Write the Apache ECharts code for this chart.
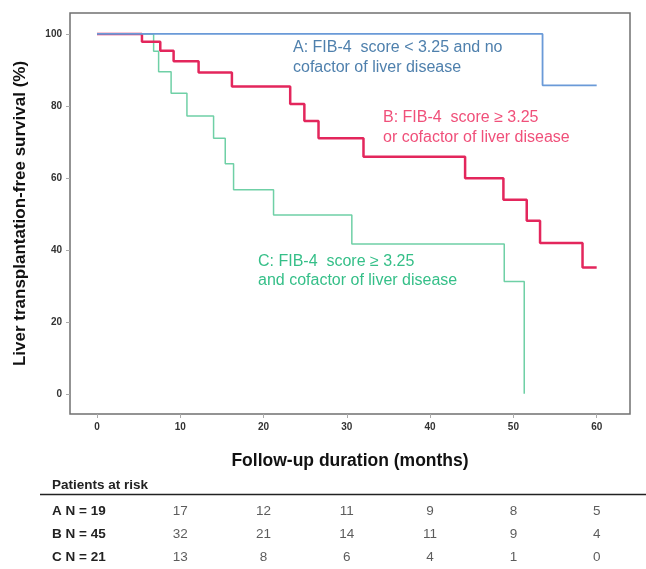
<!DOCTYPE html>
<html>
<head>
<meta charset="utf-8">
<script src="https://cdn.jsdelivr.net/npm/echarts@6/dist/echarts.min.js"></script>
<style>
html,body{margin:0;padding:0;background:#fff;}
#main{width:646px;height:569px;}
</style>
</head>
<body>
<div id="main"></div>
<script>
// Kaplan-Meier step data [month, survival %]
var curveA = [[0,100],[53.5,85.7],[60,85.7]];
var curveB = [[0,100],[5.4,97.8],[7.6,95.3],[9.2,92.4],[12.2,89.3],[16.2,85.4],[23.2,80.5],[24.9,75.8],[26.6,71.0],[32.0,65.9],[44.2,59.9],[48.8,53.9],[51.6,48.1],[53.2,41.9],[58.3,35.1],[60,35.1]];
var curveC = [[0,100],[6.8,95.2],[7.4,89.5],[8.9,83.5],[10.8,77.2],[14.0,71.0],[15.4,63.9],[16.4,56.7],[21.2,49.7],[30.6,41.6],[48.9,31.2],[51.3,0]];

var xTicks = [0,10,20,30,40,50,60];
var yTicks = [0,20,40,60,80,100];

// Patients at risk table
var riskMonths = [10,20,30,40,50,60];
var riskRows = ['A N = 19','B N = 45','C N = 21'];
var riskA = [17,12,11,9,8,5];
var riskB = [32,21,14,11,9,4];
var riskC = [13,8,6,4,1,0];

var FONT = 'Liberation Sans, Arial, sans-serif';
var chart = echarts.init(document.getElementById('main'));

function riskSeries(row, vals){
  return {
    type:'scatter', xAxisIndex:1, yAxisIndex:1, symbolSize:0, silent:true,
    data: riskMonths.map(function(m,i){ return [m, row, vals[i]]; }),
    label:{show:true, position:'inside', formatter:function(p){return p.value[2];},
      fontFamily:FONT, fontSize:13.5, color:'#333'}
  };
}

var option = {
  animation:false,
  backgroundColor:'#fff',
  grid:[
    {left:70, right:16, top:13, bottom:155, show:true, borderColor:'#707070', borderWidth:1.5, backgroundColor:'transparent'},
    {left:70, right:16, top:500, height:72, show:false}
  ],
  xAxis:[
    {type:'value', gridIndex:0, min:-3.24, max:64, splitLine:{show:false},
     axisLine:{show:false, onZero:false},
     axisTick:{show:true, customValues:xTicks, length:4, lineStyle:{color:'#aaa'}},
     axisLabel:{customValues:xTicks, fontFamily:FONT, fontSize:10, fontWeight:'bold', color:'#333', margin:8},
     name:'Follow-up duration (months)', nameLocation:'middle', nameGap:38,
     nameTextStyle:{fontFamily:FONT, fontSize:17.5, fontWeight:'bold', color:'#111'}},
    {type:'value', gridIndex:1, min:-3.24, max:64, show:false}
  ],
  yAxis:[
    {type:'value', gridIndex:0, min:-5.6, max:105.8, splitLine:{show:false},
     axisLine:{show:false, onZero:false},
     axisTick:{show:true, customValues:yTicks, length:4, lineStyle:{color:'#aaa'}},
     axisLabel:{customValues:yTicks, fontFamily:FONT, fontSize:10, fontWeight:'bold', color:'#333', margin:8},
     name:'Liver transplantation-free survival (%)', nameLocation:'middle', nameGap:41,
     nameTextStyle:{fontFamily:FONT, fontSize:17, fontWeight:'bold', color:'#111'}},
    {type:'category', gridIndex:1, data:riskRows, inverse:true,
     axisLine:{show:false}, axisTick:{show:false}, splitLine:{show:false},
     axisLabel:{align:'left', margin:18, fontFamily:FONT, fontSize:13.5, fontWeight:'bold', color:'#222'}}
  ],
  series:[
    {type:'line', name:'C', step:'end', data:curveC, showSymbol:false, silent:true,
     lineStyle:{color:'#6fd0a6', width:1.5}},
    {type:'line', name:'B', step:'end', data:curveB, showSymbol:false, silent:true,
     lineStyle:{color:'#e3265c', width:2.5}},
    {type:'line', name:'A', step:'end', data:curveA, showSymbol:false, silent:true,
     lineStyle:{color:'#6a9ad8', width:1.8}},
    riskSeries(riskRows[0], riskA),
    riskSeries(riskRows[1], riskB),
    riskSeries(riskRows[2], riskC)
  ],
  graphic:[
    {type:'text', left:293, top:38, style:{text:'A: FIB-4  score < 3.25 and no\ncofactor of liver disease', fill:'#4f80ad', font:'16px '+FONT, lineHeight:20}},
    {type:'text', left:383, top:108, style:{text:'B: FIB-4  score \u2265 3.25\nor cofactor of liver disease', fill:'#f0507a', font:'16px '+FONT, lineHeight:20}},
    {type:'text', left:258, top:252, style:{text:'C: FIB-4  score \u2265 3.25\nand cofactor of liver disease', fill:'#35bf88', font:'16px '+FONT, lineHeight:19}},
    {type:'text', left:52, top:478, style:{text:'Patients at risk', fill:'#222', font:'bold 13.5px '+FONT}},
    {type:'line', shape:{x1:40, y1:494.5, x2:646, y2:494.5}, style:{stroke:'#222', lineWidth:1.5}}
  ]
};
chart.setOption(option);
</script>
</body>
</html>
